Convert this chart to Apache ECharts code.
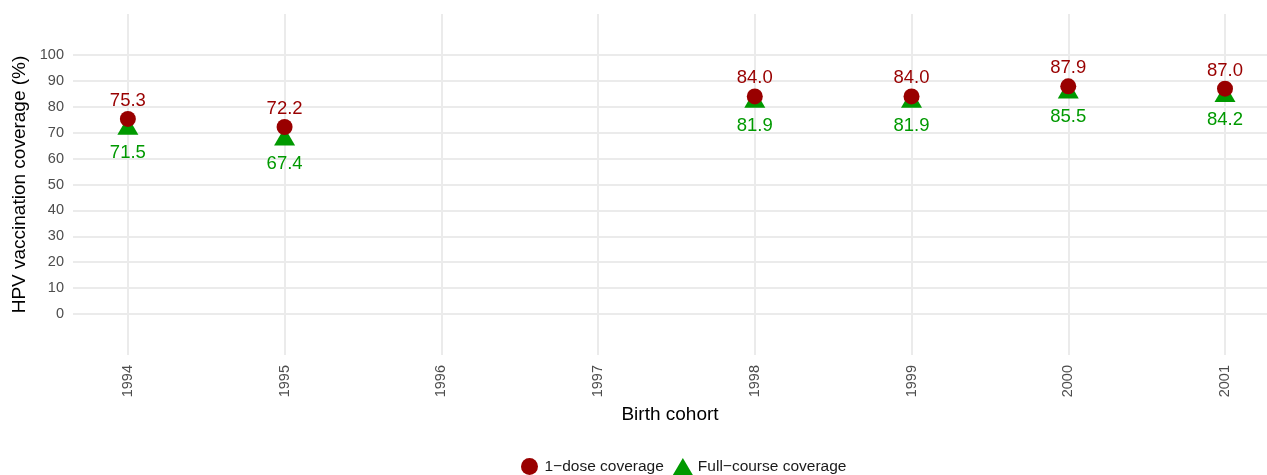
<!DOCTYPE html>
<html>
<head>
<meta charset="utf-8">
<script src="https://cdn.jsdelivr.net/npm/echarts@6/dist/echarts.min.js"></script>
<style>html,body{margin:0;padding:0;background:#fff}#c{width:1267px;height:475px}</style>
</head>
<body>
<div id="c"></div>
<script>
const years = [1994, 1995, 1998, 1999, 2000, 2001];
const oneDose = [75.3, 72.2, 84.0, 84.0, 87.9, 87.0];
const fullCourse = [71.5, 67.4, 81.9, 81.9, 85.5, 84.2];
const xTicks = [1994, 1995, 1996, 1997, 1998, 1999, 2000, 2001];
const yTicks = [0, 10, 20, 30, 40, 50, 60, 70, 80, 90, 100];

const RED = '#990000', GREEN = '#009900';
const FONT = '"Liberation Sans", Arial, Helvetica, sans-serif';
const chart = echarts.init(document.getElementById('c'), null, {renderer: 'canvas'});
const grid = '#ebebeb';
chart.setOption({
  animation: false,
  backgroundColor: '#fff',
  textStyle: {fontFamily: FONT},
  grid: {left: 73, right: 0, top: 14, bottom: 120, containLabel: false},
  xAxis: {
    type: 'value', min: 1993.65, max: 2001.268,
    name: 'Birth cohort', nameLocation: 'middle', nameGap: 48,
    nameTextStyle: {fontSize: 19, color: '#000', fontFamily: FONT},
    axisLine: {show: false},
    axisTick: {show: false, customValues: xTicks},
    axisLabel: {customValues: xTicks, rotate: 90, fontSize: 14.5, color: '#4d4d4d', margin: 10, fontFamily: FONT,
      formatter: v => String(v)},
    splitLine: {show: true, lineStyle: {color: grid, width: 2}}
  },
  yAxis: {
    type: 'value', min: -15.8, max: 115.8,
    name: 'HPV vaccination coverage (%)', nameLocation: 'middle', nameGap: 41,
    nameTextStyle: {fontSize: 19, color: '#000', fontFamily: FONT},
    axisLine: {show: false},
    axisTick: {show: false, customValues: yTicks},
    axisLabel: {customValues: yTicks, fontSize: 14.5, color: '#4d4d4d', margin: 9, fontFamily: FONT},
    splitLine: {show: true, lineStyle: {color: grid, width: 2}}
  },
  legend: {
    left: 516, top: 453,
    itemWidth: 20, itemHeight: 17, itemGap: 9,
    textStyle: {fontSize: 15.5, color: '#1a1a1a', fontFamily: FONT},
    data: [{name: '1\u2212dose coverage', icon: 'circle'}, {name: 'Full\u2212course coverage', icon: 'triangle'}]
  },
  series: [
    {
      name: '1\u2212dose coverage', type: 'scatter', z: 3,
      data: years.map((y, i) => [y, oneDose[i]]),
      symbol: 'circle', symbolSize: 16,
      itemStyle: {color: RED, opacity: 1},
      label: {show: true, position: 'top', distance: 0.5, color: RED, fontSize: 18.5, fontFamily: FONT,
        formatter: p => p.value[1].toFixed(1)}
    },
    {
      name: 'Full\u2212course coverage', type: 'scatter', z: 2,
      data: years.map((y, i) => [y, fullCourse[i]]),
      symbol: 'triangle', symbolSize: [21, 18], symbolOffset: [0, -3],
      itemStyle: {color: GREEN, opacity: 1},
      label: {show: true, position: 'bottom', distance: 9, color: GREEN, fontSize: 18.5, fontFamily: FONT,
        formatter: p => p.value[1].toFixed(1)}
    }
  ]
});
</script>
</body>
</html>
